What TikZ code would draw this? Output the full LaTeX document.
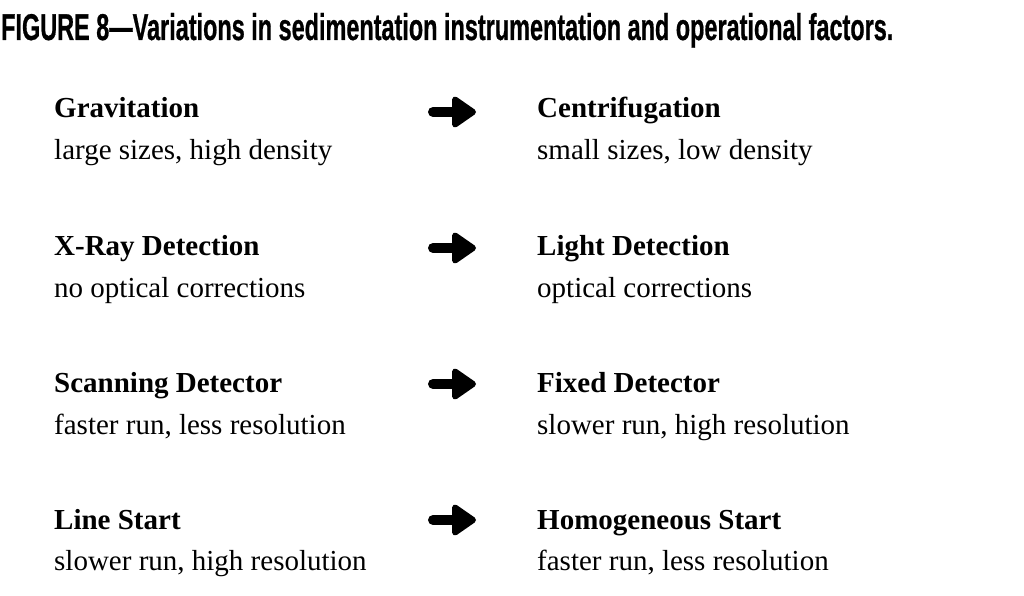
\documentclass[tikz,border=0pt]{standalone}
\usepackage{fontspec}
\setmainfont{Liberation Serif}
\newfontfamily\titlefont[FakeBold=0.8]{Liberation Sans Bold}
\usepackage{graphicx}
\tikzset{
  lbl/.style={anchor=base west, inner sep=0pt, font=\fontsize{29}{30}\selectfont},
  hdr/.style={lbl, font=\fontsize{29}{30}\selectfont\bfseries},
  arrowshaft/.style={line width=10pt, line cap=round},
  arrowhead/.style={fill=black, draw=black, line width=6pt, line join=round},
}
\newcommand{\fatarrow}[2]{%
  \coordinate (#1) at (454,#2);
  \draw[arrowshaft] ([xshift=-21pt]#1) -- ([xshift=8pt]#1);
  \filldraw[arrowhead] ([shift={(1pt,-12.5pt)}]#1) -- ([shift={(19pt,0pt)}]#1) -- ([shift={(1pt,12.5pt)}]#1) -- cycle;
}
\begin{document}
\begin{tikzpicture}[x=1pt,y=-1pt]
\useasboundingbox (0,0) rectangle (1024,596);
\node[anchor=base west, inner sep=0pt] (title) at (1,40)
  {\resizebox{892pt}{27pt}{\titlefont FIGURE 8\textemdash Variations in sedimentation instrumentation and operational factors.}};

\node[hdr] (g) at (54,117.5) {Gravitation};
\node[lbl] (gs) at (54,159.5) {large sizes, high density};
\node[hdr] (c) at (537,117.5) {Centrifugation};
\node[lbl] (cs) at (537,159.5) {small sizes, low density};
\fatarrow{a1}{112}

\node[hdr] (x) at (54,255) {X-Ray Detection};
\node[lbl] (xs) at (54,297) {no optical corrections};
\node[hdr] (l) at (537,255) {Light Detection};
\node[lbl] (ls) at (537,297) {optical corrections};
\fatarrow{a2}{248}

\node[hdr] (s) at (54,392) {Scanning Detector};
\node[lbl] (ss) at (54,434) {faster run, less resolution};
\node[hdr] (f) at (537,392) {Fixed Detector};
\node[lbl] (fs) at (537,434) {slower run, high resolution};
\fatarrow{a3}{384}

\node[hdr] (ln) at (54,529.5) {Line Start};
\node[lbl] (lns) at (54,570.5) {slower run, high resolution};
\node[hdr] (h) at (537,529.5) {Homogeneous Start};
\node[lbl] (hs) at (537,570.5) {faster run, less resolution};
\fatarrow{a4}{520}
\end{tikzpicture}
\end{document}
